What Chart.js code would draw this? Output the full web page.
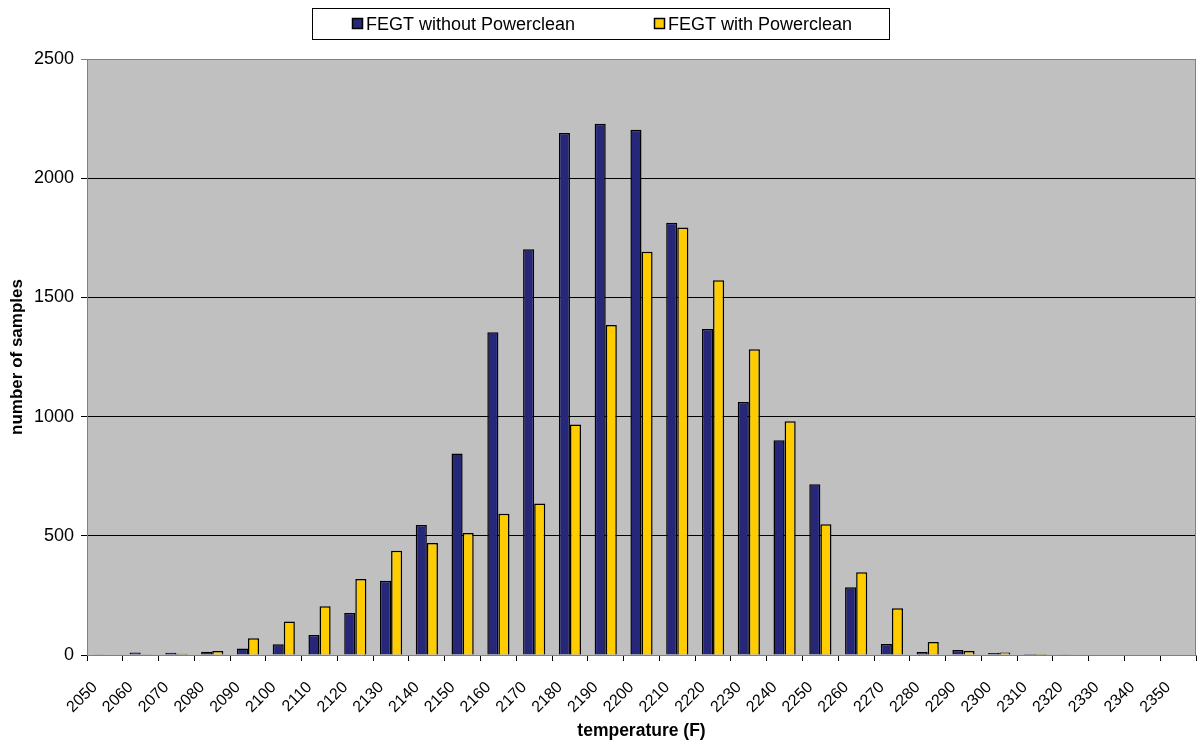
<!DOCTYPE html>
<html>
<head>
<meta charset="utf-8">
<script src="https://cdn.jsdelivr.net/npm/chart.js@4.4.1/dist/chart.umd.min.js"></script>
<style>
html,body{margin:0;padding:0;background:#fff;}
#wrap{width:1197px;height:748px;position:relative;}
</style>
</head>
<body>
<div id="wrap"><canvas id="c" width="1197" height="748"></canvas></div>
<script>
const categories = ['2050','2060','2070','2080','2090','2100','2110','2120','2130','2140','2150','2160','2170','2180','2190','2200','2210','2220','2230','2240','2250','2260','2270','2280','2290','2300','2310','2320','2330','2340','2350'];
const withoutPowerclean = [3,11,9,14,27,45,84,176,311,545,845,1354,1702,2190,2228,2203,1813,1367,1061,901,716,284,46,13,21,8,4,3,2,0,0];
const withPowerclean    = [0,3,5,17,70,140,205,319,437,470,512,593,635,967,1384,1691,1793,1572,1283,981,548,347,196,55,17,11,4,0,0,2,0];
const seriesNames = ['FEGT without Powerclean','FEGT with Powerclean'];
const yTicks = [0,500,1000,1500,2000,2500];

const FONT = "'Liberation Sans', Arial, sans-serif";
const NAVY = '#27277a';
const GOLD = '#ffcc00';

const bgPlugin = {
  id:'bg',
  beforeDraw(chart){
    const {ctx, chartArea:a} = chart;
    ctx.save();
    ctx.fillStyle = '#c0c0c0';
    ctx.fillRect(a.left, a.top, a.right-a.left, a.bottom-a.top);
    ctx.restore();
  },
  afterDraw(chart){
    const {ctx, chartArea:a} = chart;
    ctx.save();
    ctx.strokeStyle = '#808080';
    ctx.lineWidth = 1;
    ctx.beginPath();
    ctx.moveTo(a.left, a.top+0.5); ctx.lineTo(a.right-0.5, a.top+0.5); ctx.lineTo(a.right-0.5, a.bottom);
    ctx.stroke();
    // legend
    const bx=312, by=8, bw=577, bh=31;
    ctx.fillStyle='#fff';
    ctx.fillRect(bx,by,bw,bh);
    ctx.strokeStyle='#000';
    ctx.strokeRect(bx+0.5,by+0.5,bw,bh);
    const items=[{x:352,c:NAVY,t:chart.data.datasets[0].label},{x:654,c:GOLD,t:chart.data.datasets[1].label}];
    ctx.font = "18px " + FONT;
    ctx.textBaseline='middle';
    ctx.textAlign='left';
    items.forEach(it=>{
      ctx.fillStyle=it.c;
      ctx.fillRect(it.x+0.5,18.5,10,10);
      ctx.strokeStyle='#000';
      ctx.lineWidth=1.5;
      ctx.strokeRect(it.x+0.5,18.5,10,10);
      ctx.fillStyle='#000';
      ctx.fillText(it.t, it.x+14, 25);
    });
    ctx.restore();
  }
};

new Chart(document.getElementById('c'), {
  type:'bar',
  data:{
    labels:categories,
    datasets:[
      {label:seriesNames[0], data:withoutPowerclean, backgroundColor:NAVY, borderColor:'#000', borderWidth:1.5, borderSkipped:'start', categoryPercentage:0.62, barPercentage:1},
      {label:seriesNames[1], data:withPowerclean, backgroundColor:GOLD, borderColor:'#000', borderWidth:1.5, borderSkipped:'start', categoryPercentage:0.62, barPercentage:1}
    ]
  },
  options:{
    responsive:false,
    animation:false,
    devicePixelRatio:1,
    layout:{padding:{top:59,right:1,left:0,bottom:0}},
    plugins:{legend:{display:false}, tooltip:{enabled:false}},
    scales:{
      x:{
        offset:true,
        grid:{offset:true, drawOnChartArea:false, drawTicks:true, tickLength:6, color:'#000'},
        border:{color:'#808080', width:1},
        ticks:{minRotation:45, maxRotation:45, autoSkip:false, color:'#000', font:{family:FONT, size:16}, padding:17, labelOffset:-10},
        title:{display:true, text:'temperature (F)', color:'#000', font:{family:FONT, size:17.5, weight:'bold'}, padding:{top:0,bottom:6}},
        afterFit(axis){ axis.height = 93; axis.paddingLeft = 0; axis.paddingRight = 0; }
      },
      y:{
        min:0, max:2500,
        afterBuildTicks(axis){ axis.ticks = yTicks.map(v=>({value:v})); },
        grid:{color:(c)=> (c.tick && c.tick.value===2500) ? '#808080' : '#000', tickLength:6, drawTicks:true},
        border:{color:'#808080', width:1},
        ticks:{color:'#000', font:{family:FONT, size:18}, padding:7, callback:(v)=>String(v)},
        title:{display:true, text:'number of samples', color:'#000', font:{family:FONT, size:17, weight:'bold'}, padding:{top:7,bottom:0}},
        afterFit(axis){ axis.width = 87; axis.paddingTop = 0; axis.paddingBottom = 0; }
      }
    }
  },
  plugins:[bgPlugin]
});
</script>
</body>
</html>
